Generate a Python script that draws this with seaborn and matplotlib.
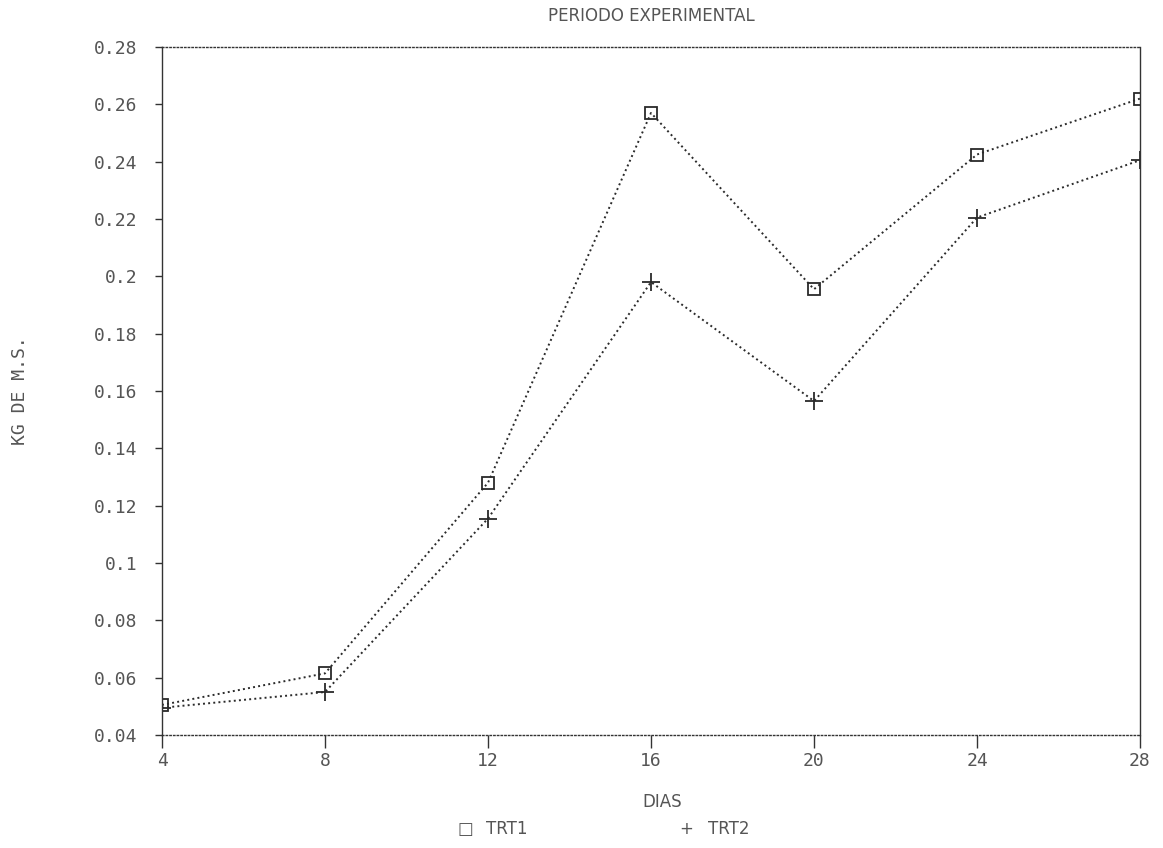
import matplotlib
matplotlib.use("Agg")
import matplotlib.pyplot as plt
import seaborn as sns
import pandas as pd

dias = [4, 8, 12, 16, 20, 24, 28]
trt1 = [0.0505, 0.0615, 0.128, 0.257, 0.1955, 0.2425, 0.262]
trt2 = [0.0495, 0.055, 0.1155, 0.198, 0.1565, 0.2205, 0.2405]
x_ticks = [4, 8, 12, 16, 20, 24, 28]
y_ticks = [0.04, 0.06, 0.08, 0.1, 0.12, 0.14, 0.16, 0.18, 0.2, 0.22, 0.24, 0.26, 0.28]
y_ticklabels = ["0.04", "0.06", "0.08", "0.1", "0.12", "0.14", "0.16", "0.18",
                "0.2", "0.22", "0.24", "0.26", "0.28"]

sns.set_theme(style="white")
plt.rcParams['font.family'] = ['DejaVu Sans']

df = pd.DataFrame({
    "DIAS": dias * 2,
    "KG": trt1 + trt2,
    "TRT": ["TRT1"] * len(dias) + ["TRT2"] * len(dias),
})

fig = plt.figure(figsize=(11.63, 8.48), dpi=100)
ax = fig.add_axes([162 / 1163, 1 - 735 / 848, (1140 - 162) / 1163, (735 - 47) / 848])

line_col = "#2a2a2a"
sns.lineplot(data=df[df.TRT == "TRT1"], x="DIAS", y="KG", ax=ax, color=line_col,
             linestyle=":", linewidth=1.4, marker="s", markersize=9,
             markerfacecolor="none", markeredgecolor=line_col, markeredgewidth=1.3,
             legend=False)
sns.lineplot(data=df[df.TRT == "TRT2"], x="DIAS", y="KG", ax=ax, color=line_col,
             linestyle=":", linewidth=1.4, marker="+", markersize=13,
             markeredgecolor=line_col, markeredgewidth=1.3, legend=False)

ax.set_xlim(4, 28)
ax.set_ylim(0.04, 0.28)
ax.set_xticks(x_ticks)
ax.set_xticklabels([str(v) for v in x_ticks])
ax.set_yticks(y_ticks)
ax.set_yticklabels(y_ticklabels)

txt_col = "#555555"
mono = ['DejaVu Sans Mono']
ax.tick_params(axis="x", direction="out", length=9, width=1, colors="#333333",
               labelcolor=txt_col, labelsize=13, pad=3, bottom=True)
ax.tick_params(axis="y", direction="out", length=5, width=1, colors="#333333",
               labelcolor=txt_col, labelsize=13, pad=13, left=True)
for lab in ax.get_xticklabels() + ax.get_yticklabels():
    lab.set_family(mono)
for s in ax.spines.values():
    s.set_color("#333333")
    s.set_linewidth(1.0)
ax.spines["top"].set_linestyle(":")
ax.spines["bottom"].set_linestyle(":")

ax.set_xlabel("")
ax.set_ylabel("")
fig.text(651 / 1163, 1 - 16 / 848, "PERIODO EXPERIMENTAL", ha="center", va="center",
         fontsize=12, color=txt_col)
fig.text(20 / 1163, 1 - 391 / 848, "KG DE M.S.", ha="center", va="center",
         rotation=90, fontsize=13, color=txt_col, family=mono)
fig.text(662 / 1163, 1 - 802 / 848, "DIAS", ha="center", va="center",
         fontsize=12, color=txt_col)
fig.text(465 / 1163, 1 - 829 / 848, "\u25a1", ha="center", va="center",
         fontsize=12, color=txt_col)
fig.text(507 / 1163, 1 - 829 / 848, "TRT1", ha="center", va="center",
         fontsize=12, color=txt_col)
fig.text(686 / 1163, 1 - 829 / 848, "+", ha="center", va="center",
         fontsize=12, color=txt_col)
fig.text(729 / 1163, 1 - 829 / 848, "TRT2", ha="center", va="center",
         fontsize=12, color=txt_col)

fig.savefig("out.png", dpi=100, facecolor="white")
